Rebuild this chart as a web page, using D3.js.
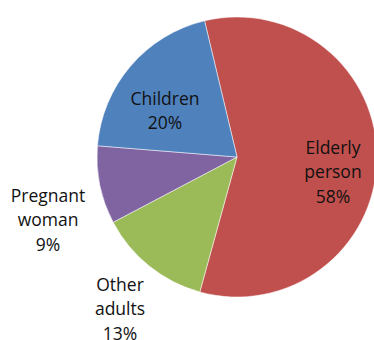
<!DOCTYPE html>
<html>
<head>
<meta charset="utf-8">
<script src="https://cdn.jsdelivr.net/npm/d3@7"></script>
<style>
  html, body { margin: 0; padding: 0; background: #fff; }
  svg { display: block; }
  text { font-family: "Open Sans", sans-serif; font-size: 17.5px; fill: #111; }
</style>
</head>
<body>
<svg id="chart" width="374" height="340"></svg>
<script>
// Share of each group, in drawing order (clockwise)
const categories = ["Elderly person", "Other adults", "Pregnant woman", "Children"];
const values = [58, 13, 9, 20];
const colors = ["#C0504D", "#9BBB59", "#8064A2", "#4F81BD"];
// Label lines per slice
const labelLines = [["Elderly", "person", "58%"], ["Other", "adults", "13%"], ["Pregnant", "woman", "9%"], ["Children", "20%"]];
// Label anchor points (centre of the text block)
const labelPos = [[333, 172], [120, 309], [48, 220], [165, 111]];

const svg = d3.select("#chart");
const cx = 237, cy = 157, r = 140;
const startOffset = -13.4 * Math.PI / 180;

const pie = d3.pie().sort(null).value(d => d)
  .startAngle(startOffset).endAngle(startOffset + 2 * Math.PI);
const arcs = pie(values);
const arc = d3.arc().innerRadius(0).outerRadius(r);

const g = svg.append("g").attr("transform", `translate(${cx},${cy})`);
g.selectAll("path").data(arcs).join("path")
  .attr("d", arc)
  .attr("fill", (d, i) => colors[i])
  .attr("stroke", "#fff")
  .attr("stroke-width", 0.5);

const lineH = 24.5;
labelLines.forEach((lines, i) => {
  const [x, y] = labelPos[i];
  const t = svg.append("text").attr("text-anchor", "middle");
  lines.forEach((s, j) => {
    t.append("tspan")
      .attr("x", x)
      .attr("y", y + (j - (lines.length - 1) / 2) * lineH)
      .attr("dy", "0.35em")
      .text(s);
  });
});
</script>
</body>
</html>
